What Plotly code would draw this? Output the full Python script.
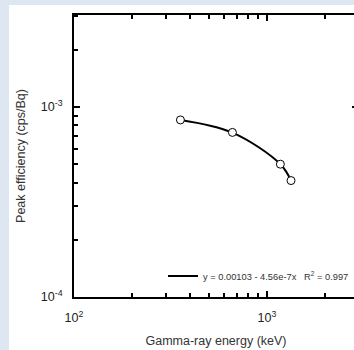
import plotly.graph_objects as go

# Data
energy_kev = [356, 662, 1173, 1332]
efficiency = [8.55e-4, 7.35e-4, 5.0e-4, 4.1e-4]
fit_energy = [356, 662, 1173, 1332]
fit_eff = [8.55e-4, 7.33e-4, 5.0e-4, 4.1e-4]
fit_label = "y = 0.00103 - 4.56e-7x   R<sup>2</sup> = 0.997"

x_tickvals = [100, 1000]
x_ticktext = ["10<sup>2</sup>", "10<sup>3</sup>"]
y_tickvals = [1e-4, 1e-3]
y_ticktext = ["10<sup>-4</sup>", "10<sup>-3</sup>"]
x_minor = [200, 300, 400, 500, 600, 700, 800, 900, 2000]
y_minor = [2e-4, 3e-4, 4e-4, 5e-4, 6e-4, 7e-4, 8e-4, 9e-4, 2e-3, 3e-3]

W, H = 360, 350          # the window shows the left 354 px
L, R, T, B = 74, 2, 15, 53
xdec = 193.0
ydec = 190.0
pw = W - L - R
ph = H - T - B
BG = "#dde6f1"

fig = go.Figure()
fig.add_trace(go.Scatter(
    x=fit_energy, y=fit_eff, mode="lines", name=fit_label,
    line=dict(color="black", width=2, shape="spline"), showlegend=True))
fig.add_trace(go.Scatter(
    x=energy_kev, y=efficiency, mode="markers", showlegend=False,
    marker=dict(symbol="circle", size=8, color="white",
                line=dict(color="black", width=1))))

font = "Liberation Sans, Arial, sans-serif"
fig.update_layout(
    width=W, height=H,
    margin=dict(l=L, r=R, t=T, b=B, pad=0, autoexpand=False),
    paper_bgcolor=BG,
    plot_bgcolor="white",
    font=dict(family=font, size=12, color="#222222"),
    showlegend=True,
    legend=dict(x=(163 - L) / pw, y=(297 - 276) / ph, xanchor="left", yanchor="middle",
                bgcolor="rgba(0,0,0,0)", font=dict(size=9.3, color="#333333"),
                itemwidth=30, tracegroupgap=0),
    shapes=[dict(type="rect", xref="paper", yref="paper",
                 x0=(9 - L) / pw, x1=1.2, y0=-0.5, y1=(297 - 5) / ph,
                 fillcolor="white", line=dict(width=0), layer="below")],
)
fig.update_xaxes(
    type="log", range=[2, 2 + pw / xdec], automargin=False,
    showgrid=False, zeroline=False,
    showline=True, linecolor="black", linewidth=2, mirror="ticks",
    ticks="inside", ticklen=6, tickwidth=2, tickcolor="black",
    tickvals=x_tickvals, ticktext=x_ticktext,
    tickfont=dict(size=12.5, color="#222222"), ticklabelstandoff=8,
    minor=dict(ticks="inside", ticklen=4, tickwidth=2, tickcolor="black",
               tickvals=x_minor, showgrid=False),
    title=dict(text="Gamma-ray energy (keV)", font=dict(size=12.5, color="#333333"), standoff=12),
)
fig.update_yaxes(
    type="log", range=[-4, -4 + ph / ydec], automargin=False,
    showgrid=False, zeroline=False,
    showline=True, linecolor="black", linewidth=2, mirror="ticks",
    ticks="inside", ticklen=6, tickwidth=2, tickcolor="black",
    tickvals=y_tickvals, ticktext=y_ticktext,
    tickfont=dict(size=12.5, color="#222222"), ticklabelstandoff=7,
    minor=dict(ticks="inside", ticklen=4, tickwidth=2, tickcolor="black",
               tickvals=y_minor, showgrid=False),
    title=dict(text="Peak efficiency (cps/Bq)", font=dict(size=12.5, color="#333333"), standoff=12),
)

fig.write_html(
    "out.html",
    config={"displayModeBar": False},
    post_script=("document.body.style.margin='0';"
                 "document.body.style.overflow='hidden';"
                 "document.body.style.background='" + BG + "';"),
)
